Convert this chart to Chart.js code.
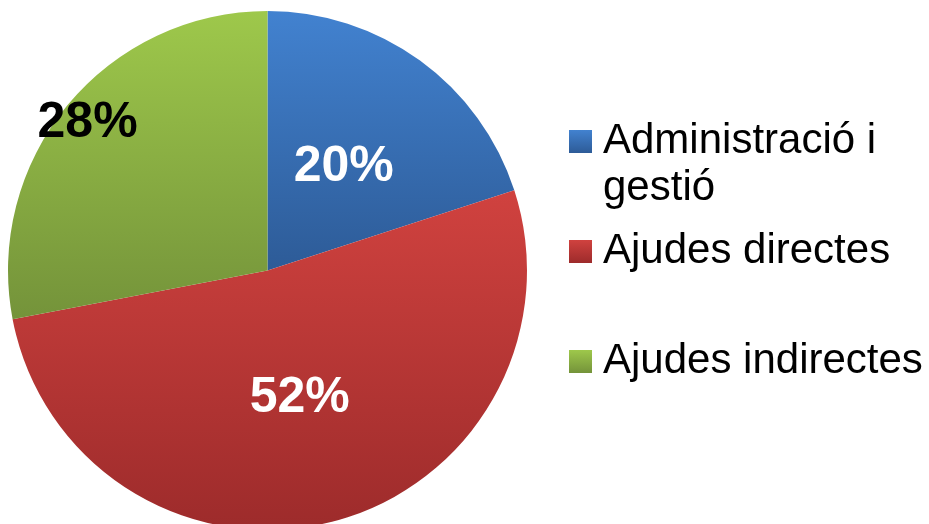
<!DOCTYPE html>
<html>
<head>
<meta charset="utf-8">
<script src="https://cdn.jsdelivr.net/npm/chart.js@4"></script>
<style>
    html, body { margin: 0; padding: 0; background: #fff; overflow: hidden; }
    #wrap { position: absolute; left: 0; top: 0; width: 929px; height: 540px; }
</style>
</head>
<body>
<div id="wrap"><canvas id="pie-chart" width="929" height="540"></canvas></div>
<script>
// Chart data
const categories = [['Administració i', 'gestió'], 'Ajudes directes', 'Ajudes indirectes'];
const shares = [20, 52, 28];

// Colours (top of gradient, bottom of gradient) for each slice
const topColors = ['#4282d0', '#d0423f', '#9ec84b'];
const bottomColors = ['#2d5b97', '#9d2b2b', '#74933a'];
const labelColors = ['#ffffff', '#ffffff', '#000000'];
const labelRadius = [0.5, 0.5, 0.9];

const FONT = '"Liberation Sans", Arial, sans-serif';

function arcBounds(cx, cy, r, a0, a1) {
    let ys = [cy, cy + r * Math.sin(a0), cy + r * Math.sin(a1)];
    for (let k = -4; k <= 8; k++) {
        const a = k * Math.PI / 2;
        if (a > a0 && a < a1) ys.push(cy + r * Math.sin(a));
    }
    return [Math.min(...ys), Math.max(...ys)];
}

function sliceGradient(context) {
    const chart = context.chart;
    const area = chart.chartArea;
    const i = context.dataIndex;
    if (!area || i === undefined) return topColors[i || 0];
    const data = context.dataset.data;
    const total = data.reduce((a, b) => a + b, 0);
    const cx = (area.left + area.right) / 2;
    const cy = (area.top + area.bottom) / 2;
    const r = Math.min(area.width, area.height) / 2;
    let before = 0;
    for (let k = 0; k < i; k++) before += data[k];
    const a0 = -Math.PI / 2 + before / total * Math.PI * 2;
    const a1 = a0 + data[i] / total * Math.PI * 2;
    const [y0, y1] = arcBounds(cx, cy, r, a0, a1);
    const g = chart.ctx.createLinearGradient(0, y0, 0, y1);
    g.addColorStop(0, topColors[i]);
    g.addColorStop(1, bottomColors[i]);
    return g;
}

// Percent labels inside / beside each slice
const sliceLabels = {
    id: 'sliceLabels',
    afterDatasetsDraw(chart) {
        const ctx = chart.ctx;
        const meta = chart.getDatasetMeta(0);
        const data = chart.data.datasets[0].data;
        const total = data.reduce((a, b) => a + b, 0);
        ctx.save();
        ctx.font = 'bold 50px ' + FONT;
        ctx.textAlign = 'center';
        ctx.textBaseline = 'middle';
        meta.data.forEach((arc, i) => {
            const mid = (arc.startAngle + arc.endAngle) / 2;
            const rr = arc.outerRadius * labelRadius[i];
            const x = arc.x + Math.cos(mid) * rr;
            const y = arc.y + Math.sin(mid) * rr;
            ctx.fillStyle = labelColors[i];
            ctx.fillText(Math.round(data[i] / total * 100) + '%', x, y + 2);
        });
        ctx.restore();
    }
};

// Legend on the right
const sideLegend = {
    id: 'sideLegend',
    afterDraw(chart) {
        const ctx = chart.ctx;
        const boxX = 569, box = 23, textX = 603;
        const firstBase = 153, step = 110, lineHeight = 47;
        ctx.save();
        ctx.font = '42px ' + FONT;
        ctx.fillStyle = '#000';
        ctx.textAlign = 'left';
        ctx.textBaseline = 'alphabetic';
        chart.data.labels.forEach((label, i) => {
            const base = firstBase + step * i;
            const g = ctx.createLinearGradient(0, base - box, 0, base);
            g.addColorStop(0, topColors[i]);
            g.addColorStop(1, bottomColors[i]);
            ctx.fillStyle = g;
            ctx.fillRect(boxX, base - box, box, box);
            ctx.fillStyle = '#000';
            const lines = Array.isArray(label) ? label : [label];
            lines.forEach((line, j) => ctx.fillText(line, textX, base + j * lineHeight));
        });
        ctx.restore();
    }
};

document.addEventListener('DOMContentLoaded', () => {
    const ctx = document.getElementById('pie-chart');

    new Chart(ctx, {
        type: 'pie',
        data: {
            labels: categories,
            datasets: [{
                data: shares,
                backgroundColor: sliceGradient,
                borderWidth: 0
            }]
        },
        options: {
            responsive: false,
            animation: false,
            layout: {
                padding: { left: 8, top: 11, right: 402, bottom: 10 }
            },
            plugins: {
                legend: { display: false },
                tooltip: { enabled: false }
            }
        },
        plugins: [sliceLabels, sideLegend]
    });
});
</script>
</body>
</html>
